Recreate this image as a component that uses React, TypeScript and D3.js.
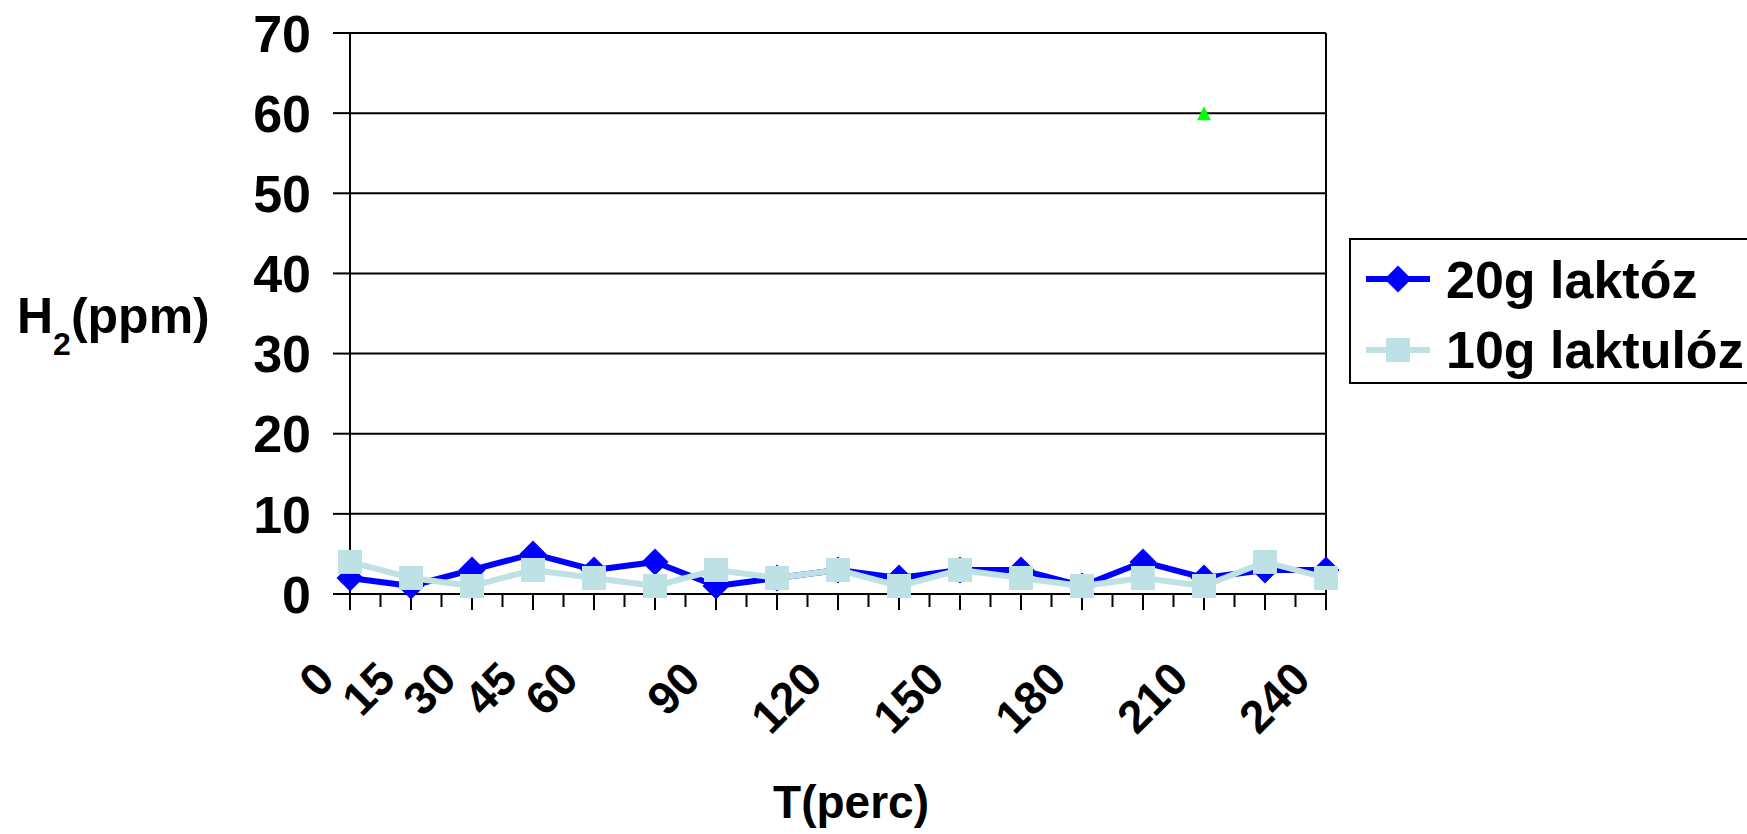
import * as d3 from 'd3'

const categories = ['0', '15', '30', '45', '60', '75', '90', '105', '120', '135', '150', '165', '180', '195', '210', '225', '240']
const shownLabels = ['0', '15', '30', '45', '60', '90', '120', '150', '180', '210', '240']
const laktoz = [2, 1, 3, 5, 3, 4, 1, 2, 3, 2, 3, 3, 1, 4, 2, 3, 3]
const laktuloz = [4, 2, 1, 3, 2, 1, 3, 2, 3, 1, 3, 2, 1, 2, 1, 4, 2]
const third: (number | null)[] = [null, null, null, null, null, null, null, null, null, null, null, null, null, null, 60, null, null]
const yTicks = [0, 10, 20, 30, 40, 50, 60, 70]

const W = 1747
const H = 834
const left = 350
const right = 1326
const top = 33
const bottom = 594
const font = '"Liberation Sans", Arial, sans-serif'

function App() {
  const x = d3.scalePoint<string>().domain(categories).range([left, right])
  const y = d3.scaleLinear().domain([0, 70]).range([bottom, top])
  const step = x.step()

  const line = d3.line<number>()
    .x((_, i) => x(categories[i])!)
    .y(d => y(d))

  const diamond = (cx: number, cy: number, r = 13.5) =>
    `M${cx},${cy - r}L${cx + r},${cy}L${cx},${cy + r}L${cx - r},${cy}Z`

  return (
    <svg width={W} height={H} style={{ position: 'fixed', left: 0, top: 0, background: '#fff' }}>
      {/* gridlines */}
      {yTicks.filter(t => t > 0).map(t => (
        <line key={t} x1={left} x2={right} y1={y(t)} y2={y(t)} stroke="#000" strokeWidth={2} />
      ))}
      <line x1={right} x2={right} y1={top} y2={bottom} stroke="#000" strokeWidth={2} />

      {/* y axis */}
      <line x1={left} x2={left} y1={top} y2={bottom} stroke="#000" strokeWidth={2} />
      {yTicks.map(t => (
        <g key={t}>
          <line x1={left - 17} x2={left} y1={y(t)} y2={y(t)} stroke="#000" strokeWidth={2} />
          <text x={311} y={y(t)} dy="0.36em" textAnchor="end" fontFamily={font} fontWeight="bold" fontSize={52}>{t}</text>
        </g>
      ))}

      {/* x axis */}
      <line x1={left} x2={right} y1={bottom} y2={bottom} stroke="#000" strokeWidth={2} />
      {categories.map(c => (
        <line key={c} x1={x(c)} x2={x(c)} y1={bottom} y2={bottom + 16} stroke="#000" strokeWidth={2} />
      ))}
      {categories.slice(1).map(c => (
        <line key={'m' + c} x1={x(c)! - step / 2} x2={x(c)! - step / 2} y1={bottom} y2={bottom + 13} stroke="#000" strokeWidth={2} />
      ))}
      {shownLabels.map(c => (
        <text key={'l' + c} transform={`translate(${x(c)! - 25},${670}) rotate(-45)`} dy="0.36em" textAnchor="end"
          fontFamily={font} fontWeight="bold" fontSize={46}>{c}</text>
      ))}

      {/* series 1 */}
      <path d={line(laktoz)!} fill="none" stroke="#0000ff" strokeWidth={6} strokeLinejoin="round" />
      {laktoz.map((v, i) => (
        <path key={'d' + i} d={diamond(x(categories[i])!, y(v))} fill="#0000ff" />
      ))}

      {/* series 2 */}
      <path d={line(laktuloz)!} fill="none" stroke="#bde1e5" strokeWidth={6} strokeLinejoin="round" />
      {laktuloz.map((v, i) => (
        <rect key={'s' + i} x={x(categories[i])! - 12} y={y(v) - 12} width={24} height={24} fill="#bde1e5" />
      ))}

      {/* series 3 */}
      {third.map((v, i) => v == null ? null : (
        <path key={'t' + i} d={`M${x(categories[i])},${y(v) - 7}L${x(categories[i])! + 7},${y(v) + 7}L${x(categories[i])! - 7},${y(v) + 7}Z`} fill="#00ff00" />
      ))}

      {/* axis titles */}
      <text x={17} y={333} fontFamily={font} fontWeight="bold" fontSize={50}>
        H<tspan fontSize={32} dy={22}>2</tspan><tspan dy={-22}>(ppm)</tspan>
      </text>
      <text x={851} y={818} textAnchor="middle" fontFamily={font} fontWeight="bold" fontSize={46}>T(perc)</text>

      {/* legend */}
      <rect x={1350} y={239} width={420} height={144} fill="#fff" stroke="#000" strokeWidth={2} />
      <line x1={1366} x2={1430} y1={279} y2={279} stroke="#0000ff" strokeWidth={6} />
      <path d={diamond(1398, 279)} fill="#0000ff" />
      <text x={1446} y={298} fontFamily={font} fontWeight="bold" fontSize={52}>20g laktóz</text>
      <line x1={1366} x2={1430} y1={350} y2={350} stroke="#bde1e5" strokeWidth={6} />
      <rect x={1386} y={338} width={24} height={24} fill="#bde1e5" />
      <text x={1446} y={368} fontFamily={font} fontWeight="bold" fontSize={52}>10g laktulóz</text>
    </svg>
  )
}

export default App
